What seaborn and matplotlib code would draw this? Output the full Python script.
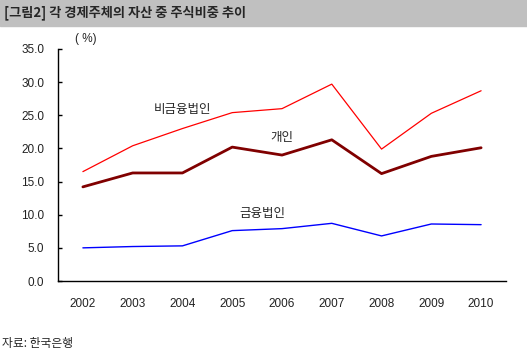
import numpy as np
import pandas as pd
import seaborn as sns
import matplotlib.pyplot as plt
from matplotlib.patches import Rectangle

years = ['2002', '2003', '2004', '2005', '2006', '2007', '2008', '2009', '2010']
nonfin = [16.5, 20.4, 23.0, 25.4, 26.0, 29.7, 19.9, 25.3, 28.7]
person = [14.2, 16.3, 16.3, 20.2, 19.0, 21.3, 16.2, 18.8, 20.1]
fin = [5.0, 5.2, 5.3, 7.6, 7.9, 8.7, 6.8, 8.6, 8.5]

sns.set_style('white')
plt.rcParams['font.family'] = ['Liberation Sans', 'Noto Sans CJK KR']

fig = plt.figure(figsize=(5.27, 3.53), dpi=100)
fig.patches.append(Rectangle((0, 1 - 26 / 353), 1, 26 / 353, transform=fig.transFigure,
                             color='#c0c0c0', zorder=0))
fig.text(4 / 527, 1 - 13 / 353, '[그림2] 각 경제주체의 자산 중 주식비중 추이',
         fontsize=9.5, fontweight='bold', va='center', ha='left',
         family=['Noto Sans CJK KR', 'DejaVu Sans'])
fig.text(2 / 527, 1 - 344 / 353, '자료: 한국은행', fontsize=8.5, va='center',
         family=['Noto Sans CJK KR', 'DejaVu Sans'])

ax = fig.add_axes([58 / 527, 72 / 353, 448 / 527, 232 / 353])
x = np.arange(len(years))
sns.lineplot(x=x, y=nonfin, color='#ff0000', linewidth=0.9, ax=ax)
sns.lineplot(x=x, y=person, color='#800000', linewidth=2.0, ax=ax)
sns.lineplot(x=x, y=fin, color='#0000ff', linewidth=1.0, ax=ax)

ax.set_xlim(-0.5, len(years) - 0.5)
ax.set_ylim(0, 35)
ax.set_yticks(np.arange(0, 36, 5))
ax.set_yticklabels([f'{v:.1f}' for v in np.arange(0, 36, 5)])
ax.set_xticks(x)
ax.set_xticklabels(years)
ax.set_xticks(np.arange(0.5, len(years), 1), minor=True)
ax.tick_params(axis='x', which='major', length=0, pad=12, labelsize=8.5, colors='#222222')
ax.tick_params(axis='x', which='minor', direction='in', length=3, width=1, color='black')
ax.tick_params(axis='y', direction='in', length=3, width=1, pad=10, labelsize=8.5,
               left=True, colors='black')
ax.tick_params(axis='y', labelcolor='#222222')
for s in ['top', 'right']:
    ax.spines[s].set_visible(False)
for s in ['left', 'bottom']:
    ax.spines[s].set_color('black')
    ax.spines[s].set_linewidth(1)

ax.text(2.0, 25.8, '비금융법인', fontsize=9, ha='center', va='center')
ax.text(4.0, 21.6, '개인', fontsize=9, ha='center', va='center')
ax.text(3.6, 10.1, '금융법인', fontsize=9, ha='center', va='center')
ax.text(0.05, 36.5, '( %)', fontsize=8.5, ha='center', va='center', clip_on=False)

fig.savefig('out.png', dpi=100)
